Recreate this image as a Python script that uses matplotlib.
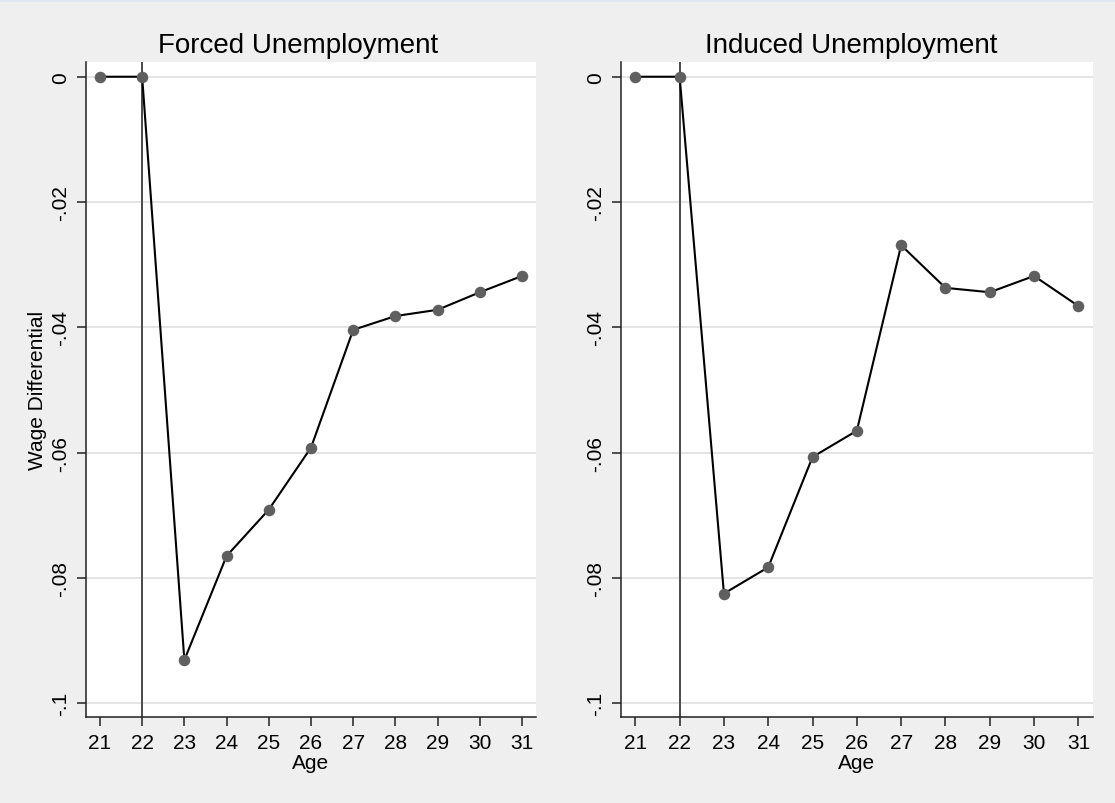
import matplotlib
matplotlib.use("Agg")
import matplotlib.pyplot as plt
from matplotlib.patches import Rectangle

plt.rcParams['font.family'] = ['Liberation Sans', 'DejaVu Sans']

# data
age = [21, 22, 23, 24, 25, 26, 27, 28, 29, 30, 31]
forced = [0.0, 0.0, -0.0931, -0.0765, -0.0691, -0.0592, -0.0404, -0.0382, -0.0372, -0.0344, -0.0318]
induced = [0.0, 0.0, -0.0825, -0.0783, -0.0607, -0.0565, -0.0269, -0.0337, -0.0344, -0.0318, -0.0366]
titles = ["Forced Unemployment", "Induced Unemployment"]
yticks = [0, -0.02, -0.04, -0.06, -0.08, -0.1]
yticklabels = ["0", "-.02", "-.04", "-.06", "-.08", "-.1"]
event_age = 22

fig = plt.figure(figsize=(11.15, 8.04), dpi=100)
fig.patch.set_facecolor('#efefef')
# thin bluish strip along the top edge
fig.patches.append(Rectangle((0, 1 - 3 / 804), 1, 3 / 804, transform=fig.transFigure,
                             facecolor='#e1e8f2', edgecolor='none'))

ax1 = fig.add_axes([86 / 1115, 86 / 804, 450 / 1115, 655.3 / 804])
ax2 = fig.add_axes([620.7 / 1115, 86 / 804, 472.3 / 1115, 655.3 / 804])
title_x = [298 / 1115, 851 / 1115]

for i, (ax, vals) in enumerate(zip([ax1, ax2], [forced, induced])):
    ax.set_facecolor('white')
    for y in yticks:
        ax.axhline(y, color='#e4e4e4', lw=1.4, zorder=0)
    ax.axvline(event_age, color='#4a4a4a', lw=1.4, zorder=1)
    ax.plot(age, vals, color='black', lw=1.5, zorder=2)
    ax.plot(age, vals, 'o', color='#5f5f5f', markersize=8.3, markeredgewidth=0, zorder=3)
    ax.set_xlim(20.67, 31.33)
    ax.set_ylim(-0.1022, 0.0024)
    ax.set_xticks(age)
    ax.set_yticks(yticks)
    ax.set_yticklabels(yticklabels, rotation=90, va='center')
    ax.tick_params(axis='both', direction='out', length=6.5, width=1.1, color='#222222', labelsize=15)
    ax.tick_params(axis='x', pad=5)
    ax.tick_params(axis='y', pad=5)
    for s in ['top', 'right']:
        ax.spines[s].set_visible(False)
    for s in ['left', 'bottom']:
        ax.spines[s].set_linewidth(1.1)
        ax.spines[s].set_color('#222222')
    ax.set_xlabel("Age", fontsize=15, labelpad=1)
    fig.text(title_x[i], 1 - 53 / 804, titles[i], fontsize=20, ha='center', va='baseline')

ax1.set_ylabel("Wage Differential", fontsize=15, labelpad=3)

plt.savefig('out.png', dpi=100, facecolor=fig.get_facecolor())
